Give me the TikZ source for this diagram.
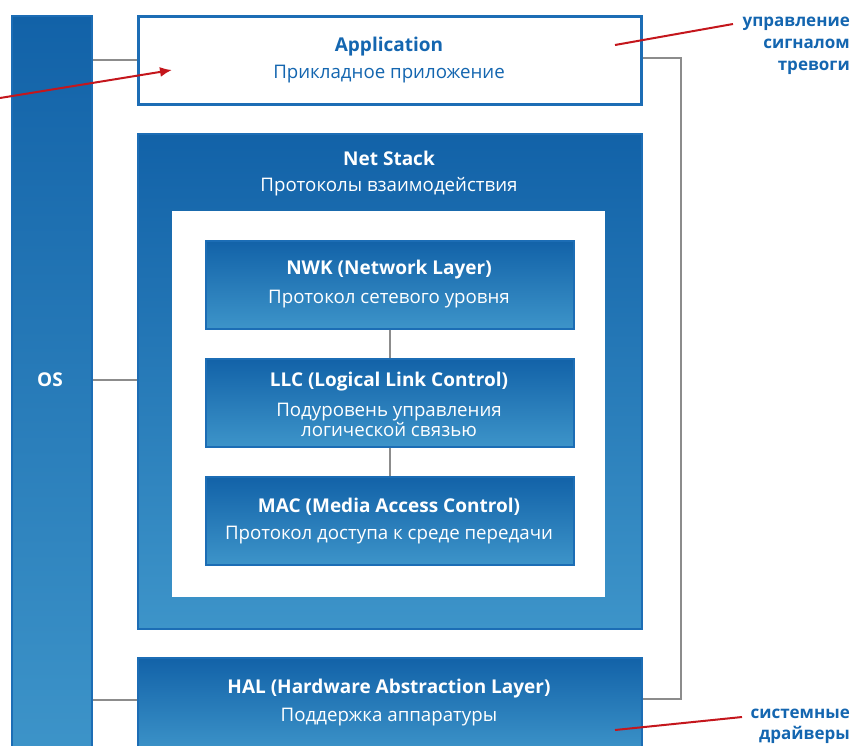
\documentclass[tikz,border=0pt]{standalone}
\usepackage{fontspec}
\setmainfont{Open Sans}
\usetikzlibrary{arrows.meta}
\definecolor{bluetext}{HTML}{1466B0}
\definecolor{bluedark}{HTML}{1262A8}
\definecolor{bluemid}{HTML}{1570B5}
\definecolor{bluelight}{HTML}{3D94C9}
\definecolor{blueedge}{HTML}{1C6DB5}
\definecolor{connGray}{HTML}{8C8C8C}
\definecolor{noteRed}{HTML}{C4161C}
\begin{document}
\begin{tikzpicture}[x=1pt,y=-1pt,
  bluebox/.style={draw=blueedge, line width=1.5pt, top color=bluedark, middle color=bluemid, bottom color=bluelight, inner sep=0pt},
  whitebox/.style={draw=blueedge, line width=2.5pt, fill=white, inner sep=0pt},
  ttl/.style={font=\fontsize{19}{20}\selectfont\bfseries, text=white, yshift=-2pt},
  sub/.style={font=\fontsize{18.7}{20}\selectfont, text=white, yshift=-2pt},
  conn/.style={draw=connGray, line width=2pt},
  note/.style={font=\fontsize{17}{22}\selectfont\bfseries, text=bluetext, align=right, anchor=north east, inner sep=0pt},
  redline/.style={draw=noteRed, line width=2pt}
]
\useasboundingbox (0,0) rectangle (851,745);
% OS column
\node[bluebox, minimum width=80pt, minimum height=740pt, anchor=north west] (os) at (11,15) {};
\node[ttl] (ostext) at (50,378) {OS};
% Application
\node[whitebox, minimum width=503pt, minimum height=88pt, anchor=north west] (app) at (137,15) {};
\node[ttl, text=bluetext] (apptitle) at (389,45) {Application};
\node[sub, text=bluetext] (appsub) at (389,72) {Прикладное приложение};
% Net stack
\node[bluebox, minimum width=504pt, minimum height=495pt, anchor=north west] (net) at (137,133) {};
\node[ttl] (nettitle) at (389,156) {Net Stack};
\node[sub] (netsub) at (389,185) {Протоколы взаимодействия};
\node[fill=white, minimum width=433pt, minimum height=386pt, anchor=north west, inner sep=0pt] (inner) at (172,211) {};
% NWK
\node[bluebox, minimum width=368pt, minimum height=88pt, anchor=north west] (nwk) at (205,240) {};
\node[ttl] (nwktitle) at (389,268) {NWK (Network Layer)};
\node[sub] (nwksub) at (389,297) {Протокол сетевого уровня};
% LLC
\node[bluebox, minimum width=368pt, minimum height=88pt, anchor=north west] (llc) at (205,358) {};
\node[ttl] (llctitle) at (389,380) {LLC (Logical Link Control)};
\node[sub, align=center, font=\fontsize{18.7}{20}\selectfont] (llcsub) at (389,418) {Подуровень управления\\логической связью};
% MAC
\node[bluebox, minimum width=368pt, minimum height=88pt, anchor=north west] (mac) at (205,476) {};
\node[ttl] (mactitle) at (389,505) {MAC (Media Access Control)};
\node[sub] (macsub) at (389,533) {Протокол доступа к среде передачи};
% HAL
\node[bluebox, minimum width=504pt, minimum height=95pt, anchor=north west] (hal) at (137,657) {};
\node[ttl] (haltitle) at (389,687) {HAL (Hardware Abstraction Layer)};
\node[sub] (halsub) at (389,715) {Поддержка аппаратуры};
% connectors
\draw[conn] (os.east |- 0,60) -- (app.west |- 0,60);
\draw[conn] (os.east |- 0,380) -- (net.west |- 0,380);
\draw[conn] (os.east |- 0,700) -- (hal.west |- 0,700);
\draw[conn] (app.east |- 0,58) -- (681,58) -- (681,699) -- (hal.east |- 0,699);
\draw[conn] (nwk.south) -- (llc.north);
\draw[conn] (llc.south) -- (mac.north);
% notes
\node[note] (n1) at (850,17) {управление\\сигналом\\тревоги};
\node[note, font=\fontsize{17}{21}\selectfont\bfseries] (n2) at (850,709) {системные\\драйверы};
\coordinate (a0) at (0,98);
\coordinate (a1) at (172,70);
\coordinate (r1) at (615,45);
\coordinate (r1e) at (733,24);
\coordinate (r2) at (615,730);
\coordinate (r2e) at (742,717);
\draw[redline, -{Latex[length=12pt,width=10pt]}] (a0) -- (a1);
\draw[redline] (r1) -- (r1e);
\draw[redline] (r2) -- (r2e);
\end{tikzpicture}
\end{document}
